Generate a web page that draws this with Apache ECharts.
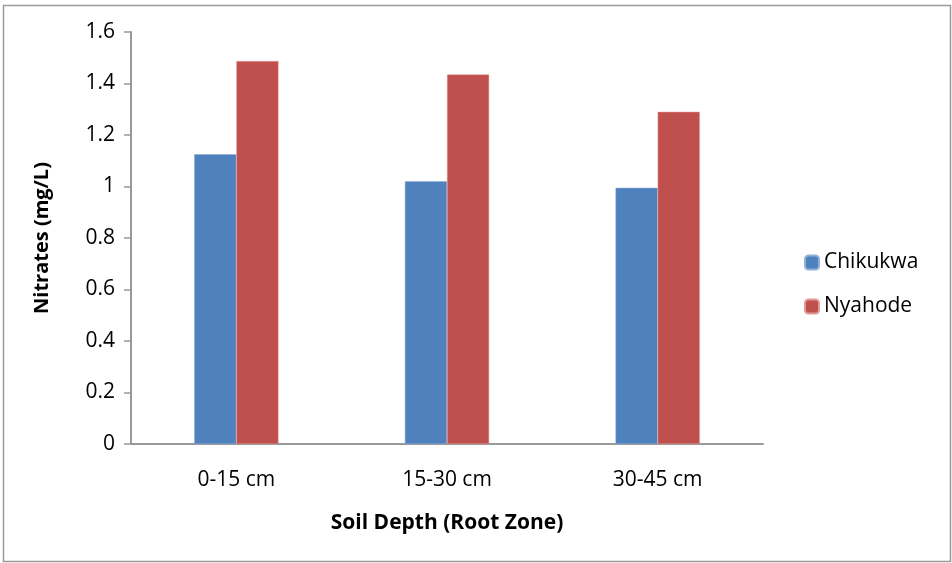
<!DOCTYPE html>
<html><head><meta charset="utf-8">
<script src="https://cdn.jsdelivr.net/npm/echarts@6/dist/echarts.min.js"></script>
<style>html,body{margin:0;padding:0;background:#fff}#c{width:952px;height:563px}</style>
</head><body><div id="c"></div>
<script>
const categories = ['0-15 cm', '15-30 cm', '30-45 cm'];
const chikukwa = [1.125, 1.02, 0.995];
const nyahode = [1.487, 1.435, 1.29];
const yTicks = [0, 0.2, 0.4, 0.6, 0.8, 1, 1.2, 1.4, 1.6];
const FONT = 'Open Sans';
const chart = echarts.init(document.getElementById('c'));
chart.setOption({
  animation: false,
  backgroundColor: '#fff',
  graphic: [{type: 'rect', shape: {x: 3.5, y: 5.5, width: 947, height: 556}, style: {fill: 'none', stroke: '#9a9a9a', lineWidth: 1.5}, silent: true}],
  grid: {left: 131, right: 189, top: 32, bottom: 119},
  legend: {
    orient: 'vertical', left: 799, top: 247, padding: 5, itemWidth: 14, itemHeight: 14, itemGap: 23,
    textStyle: {fontFamily: FONT, fontSize: 21, lineHeight: 21, color: '#000', padding: [0, 0, 0, 0]},
    data: ['Chikukwa', 'Nyahode']
  },
  xAxis: {
    type: 'category', data: categories,
    axisLine: {lineStyle: {color: '#999', width: 2}},
    axisTick: {show: false},
    axisLabel: {fontFamily: FONT, fontSize: 21, color: '#000', margin: 26},
    name: 'Soil Depth (Root Zone)', nameLocation: 'middle', nameGap: 69,
    nameTextStyle: {fontFamily: FONT, fontSize: 21, fontWeight: 'bold', color: '#000'}
  },
  yAxis: {
    type: 'value', min: 0, max: 1.6, interval: 0.2,
    splitLine: {show: false},
    axisLine: {show: true, lineStyle: {color: '#999', width: 2}},
    axisTick: {show: true, length: 7, lineStyle: {color: '#999', width: 1.5}},
    axisLabel: {fontFamily: FONT, fontSize: 21, color: '#000', margin: 16,
      formatter: v => { const t = yTicks.find(x => Math.abs(x - v) < 1e-9); return String(t !== undefined ? t : v); }},
    name: 'Nitrates (mg/L)', nameLocation: 'middle', nameGap: 79, nameRotate: 90,
    nameTextStyle: {fontFamily: FONT, fontSize: 20, fontWeight: 'bold', color: '#000'}
  },
  series: [
    {name: 'Chikukwa', type: 'bar', data: chikukwa, barGap: '0%', barCategoryGap: '60%',
      itemStyle: {color: '#4F81BD', borderColor: '#8fb0d8', borderWidth: 0.5}},
    {name: 'Nyahode', type: 'bar', data: nyahode, barGap: '0%', barCategoryGap: '60%',
      itemStyle: {color: '#C0504D', borderColor: '#e09a98', borderWidth: 0.5}}
  ]
});
</script></body></html>
